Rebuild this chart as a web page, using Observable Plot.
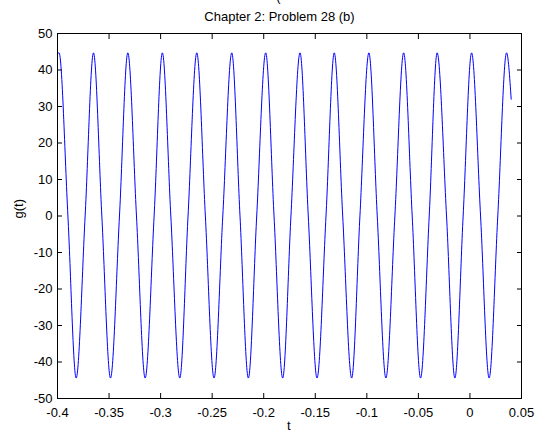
<!DOCTYPE html>
<html>
<head>
<meta charset="utf-8">
<script src="https://cdn.jsdelivr.net/npm/d3@7"></script>
<script src="https://cdn.jsdelivr.net/npm/@observablehq/plot@0.6"></script>
<style>
  html, body { margin: 0; padding: 0; background: #ffffff; }
  #chart { width: 538px; height: 432px; overflow: hidden; }
</style>
</head>
<body>
<div id="chart"></div>
<script>
// Values
const titleText = "Chapter 2: Problem 28 (b)";
const xLabel = "t";
const yLabel = "g(t)";

const xTicks = [-0.4, -0.35, -0.3, -0.25, -0.2, -0.15, -0.1, -0.05, 0, 0.05];
const yTicks = [-50, -40, -30, -20, -10, 0, 10, 20, 30, 40, 50];

// peaks of g(t)
const peakT = [-0.3985, -0.3651, -0.3318, -0.2983, -0.2649, -0.2310, -0.1981,
               -0.1648, -0.1316, -0.0980, -0.0643, -0.0318, 0.0016, 0.0355];
const peakG = [44.7, 44.7, 44.7, 44.7, 44.7, 44.7, 44.7,
               44.7, 44.7, 44.7, 44.7, 44.7, 44.7, 44.7];

// troughs of g(t)
const troughT = [-0.3819, -0.3486, -0.3150, -0.2814, -0.2482, -0.2149, -0.1816,
                 -0.1483, -0.1147, -0.0815, -0.0479, -0.0146, 0.0186];
const troughG = [-44.4, -44.4, -44.4, -44.4, -44.4, -44.4, -44.4,
                 -44.4, -44.4, -44.4, -44.4, -44.4, -44.4];

// zero crossings of g(t)
const zeroT = [-0.3899, -0.3732, -0.3570, -0.3399, -0.3234, -0.3063, -0.2901,
               -0.2734, -0.2566, -0.2397, -0.2230, -0.2068, -0.1900, -0.1736,
               -0.1568, -0.1396, -0.1234, -0.1067, -0.0899, -0.0728, -0.0560,
               -0.0395, -0.0227, -0.0066, 0.0103, 0.0270];
const zeroG = [0, 0, 0, 0, 0, 0, 0, 0, 0, 0, 0, 0, 0,
               0, 0, 0, 0, 0, 0, 0, 0, 0, 0, 0, 0, 0];

// first and last samples
const edgeT = [-0.4, 0.0400];
const edgeG = [44.5, 32];

const rows = [];
peakT.forEach((t, i) => rows.push({t, g: peakG[i]}));
troughT.forEach((t, i) => rows.push({t, g: troughG[i]}));
zeroT.forEach((t, i) => rows.push({t, g: zeroG[i]}));
edgeT.forEach((t, i) => rows.push({t, g: edgeG[i]}));
rows.sort((a, b) => a.t - b.t);

const fmt = d => String(d);

const chart = Plot.plot({
  width: 538,
  height: 432,
  marginLeft: 57,
  marginRight: 17,
  marginTop: 33,
  marginBottom: 34,
  x: {domain: [-0.4, 0.05]},
  y: {domain: [-50, 50]},
  style: {
    fontFamily: '"Liberation Sans", Arial, Helvetica, sans-serif',
    fontSize: "13px",
    background: "#ffffff",
    color: "#000000",
    overflow: "hidden"
  },
  marks: [
    Plot.line(rows, {x: "t", y: "g", curve: "monotone-x", stroke: "#0000ff", strokeWidth: 1}),
    Plot.frame({stroke: "#000000"}),
    Plot.axisX(xTicks, {anchor: "bottom", tickSize: 5, dy: -5, fill: "none", label: null}),
    Plot.axisX(xTicks, {anchor: "top", tickSize: 5, dy: 5, fill: "none", label: null}),
    Plot.axisX(xTicks, {anchor: "bottom", tickSize: 0, tickPadding: 9, tickFormat: fmt, label: null}),
    Plot.axisY(yTicks, {anchor: "left", tickSize: 5, dx: 5, fill: "none", label: null}),
    Plot.axisY(yTicks, {anchor: "right", tickSize: 5, dx: -5, fill: "none", label: null}),
    Plot.axisY(yTicks, {anchor: "left", tickSize: 0, tickPadding: 5, tickFormat: fmt, label: null}),
    Plot.text([titleText], {frameAnchor: "top", dx: -10, dy: -12.7, lineAnchor: "bottom", fill: "#000000"}),
    Plot.text(["("], {frameAnchor: "top", dx: -11, dy: -32.4, lineAnchor: "bottom", fill: "#000000"}),
    Plot.text([xLabel], {frameAnchor: "bottom", dx: -0.7, dy: 31.5, lineAnchor: "bottom", fill: "#000000"}),
    Plot.text([yLabel], {frameAnchor: "left", rotate: -90, dx: -34.7, dy: 2.5, lineAnchor: "bottom", fill: "#000000"})
  ]
});

document.getElementById("chart").appendChild(chart);
</script>
</body>
</html>
